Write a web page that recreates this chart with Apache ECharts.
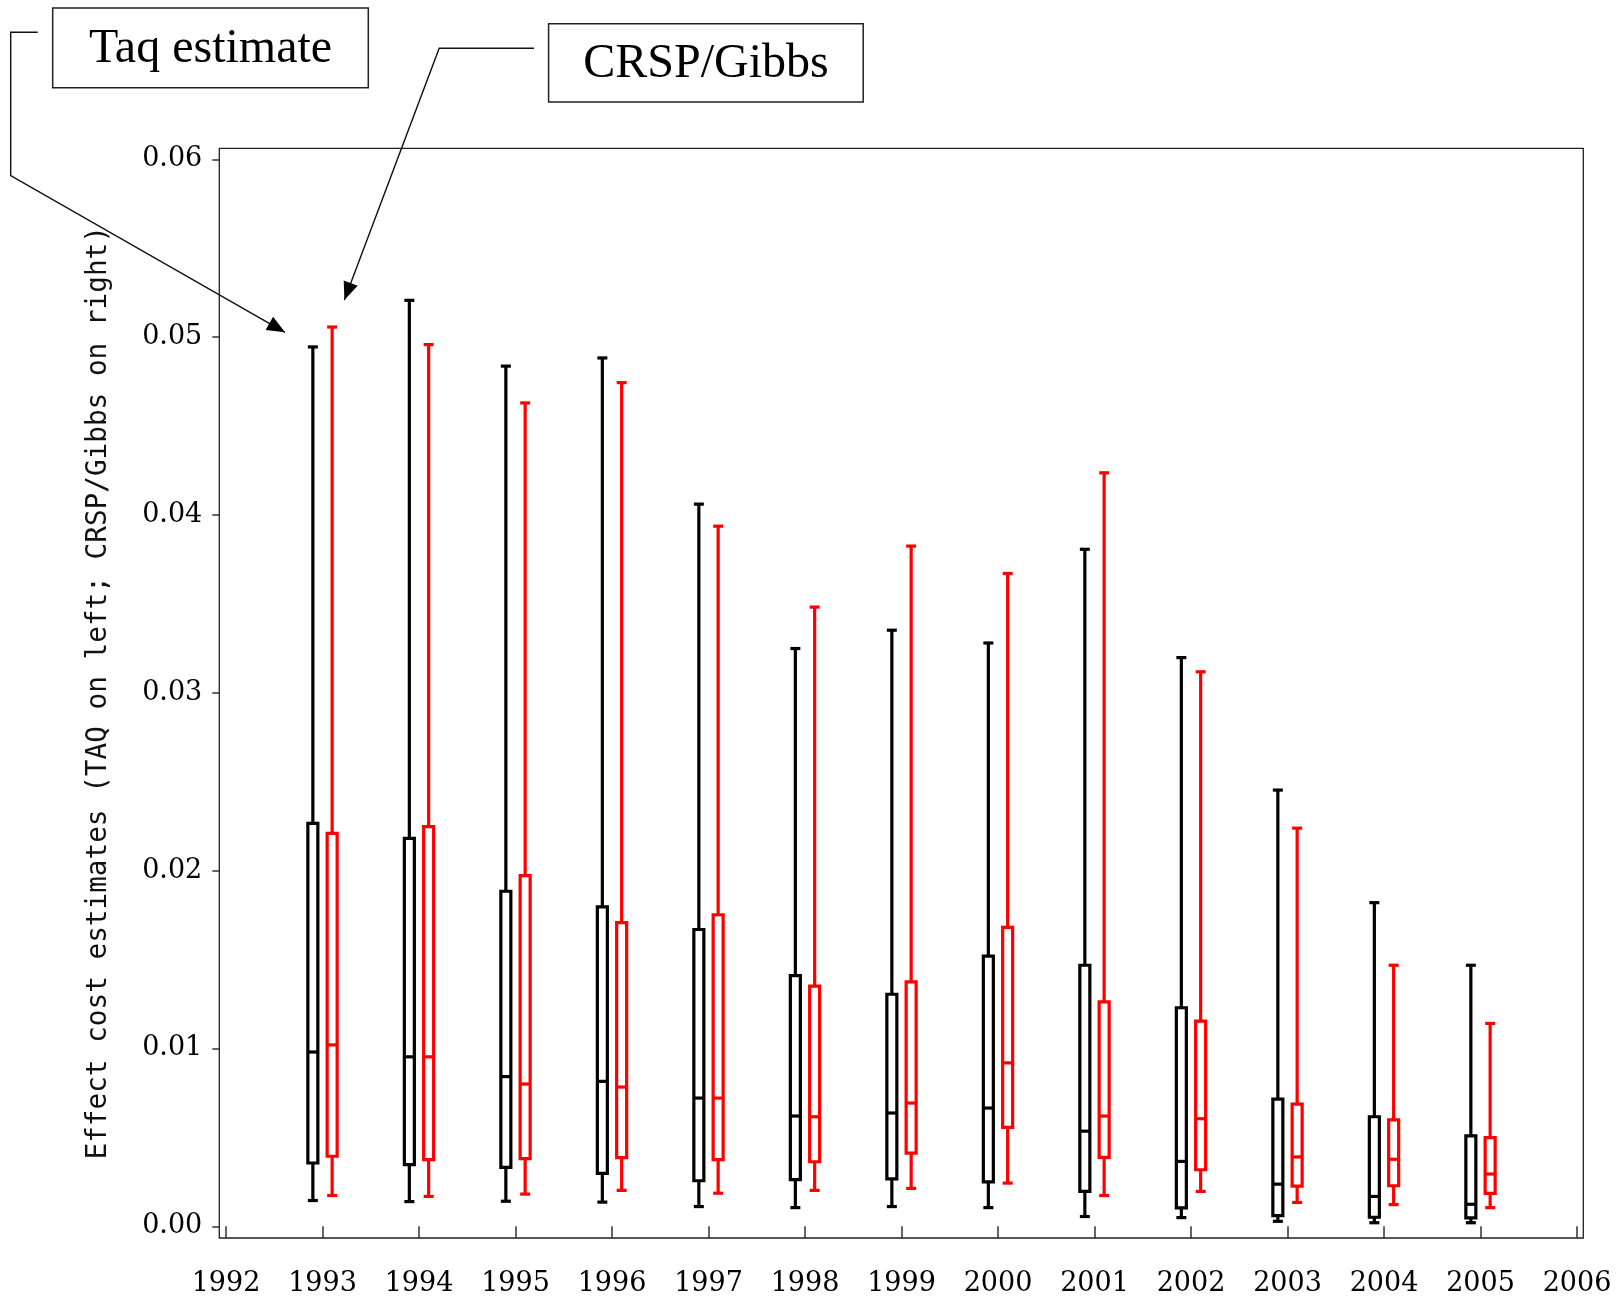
<!DOCTYPE html>
<html>
<head>
<meta charset="utf-8">
<script src="https://cdn.jsdelivr.net/npm/echarts@6/dist/echarts.min.js"></script>
<style>
html,body{margin:0;padding:0;background:#fff;}
#chart{width:1617px;height:1298px;}
</style>
</head>
<body>
<div id="chart"></div>
<script>
// ---- data ----
const years = [1993,1994,1995,1996,1997,1998,1999,2000,2001,2002,2003,2004,2005];
const xTickLabels = ['1992','1993','1994','1995','1996','1997','1998','1999','2000','2001','2002','2003','2004','2005','2006'];
const yTickLabels = ['0.00','0.01','0.02','0.03','0.04','0.05','0.06'];

// TAQ estimate (black, left)
const taqLow  = [0.00145,0.00139,0.00141,0.00136,0.00111,0.00105,0.00111,0.00105,0.00055,0.00049,0.00028,0.00020,0.00020];
const taqQ1   = [0.00356,0.00347,0.00331,0.00298,0.00256,0.00262,0.00267,0.00250,0.00196,0.00104,0.00060,0.00051,0.00047];
const taqMed  = [0.00980,0.00953,0.00842,0.00815,0.00721,0.00620,0.00637,0.00665,0.00535,0.00365,0.00237,0.00168,0.00124];
const taqQ3   = [0.02266,0.02181,0.01884,0.01796,0.01669,0.01410,0.01305,0.01519,0.01468,0.01229,0.00715,0.00616,0.00508];
const taqHigh = [0.04945,0.05207,0.04837,0.04883,0.04061,0.03249,0.03352,0.03280,0.03807,0.03198,0.02453,0.01820,0.01468];

// CRSP/Gibbs estimate (red, right)
const crspLow  = [0.00173,0.00168,0.00181,0.00202,0.00186,0.00202,0.00213,0.00243,0.00173,0.00196,0.00134,0.00122,0.00105];
const crspQ1   = [0.00394,0.00375,0.00380,0.00386,0.00375,0.00363,0.00412,0.00556,0.00388,0.00318,0.00226,0.00228,0.00185];
const crspMed  = [0.01020,0.00953,0.00800,0.00783,0.00721,0.00616,0.00693,0.00919,0.00620,0.00605,0.00390,0.00377,0.00294];
const crspQ3   = [0.02209,0.02248,0.01972,0.01708,0.01752,0.01351,0.01375,0.01681,0.01262,0.01154,0.00687,0.00599,0.00499];
const crspHigh = [0.05057,0.04958,0.04630,0.04744,0.03937,0.03482,0.03825,0.03671,0.04237,0.03118,0.02239,0.01468,0.01141];

const titleY = 'Effect cost estimates (TAQ on left; CRSP/Gibbs on right)';

// ---- build ----
const OFF = 0.1;
const taqData  = years.map((y,i)=>[y-OFF, taqLow[i], taqQ1[i], taqMed[i], taqQ3[i], taqHigh[i]]);
const crspData = years.map((y,i)=>[y+OFF, crspLow[i], crspQ1[i], crspMed[i], crspQ3[i], crspHigh[i]]);

function boxRenderer(color){
  return function(params, api){
    const x = api.value(0);
    const lo = api.coord([x, api.value(1)]);
    const q1 = api.coord([x, api.value(2)]);
    const md = api.coord([x, api.value(3)]);
    const q3 = api.coord([x, api.value(4)]);
    const hi = api.coord([x, api.value(5)]);
    const cx = lo[0];
    const h = 5;
    const st = {stroke: color, lineWidth: 3.2, fill: 'none'};
    return {
      type: 'group',
      children: [
        {type:'line', shape:{x1:cx, y1:q3[1], x2:cx, y2:hi[1]}, style: st},
        {type:'line', shape:{x1:cx, y1:q1[1], x2:cx, y2:lo[1]}, style: st},
        {type:'line', shape:{x1:cx-h, y1:hi[1], x2:cx+h, y2:hi[1]}, style: st},
        {type:'line', shape:{x1:cx-h, y1:lo[1], x2:cx+h, y2:lo[1]}, style: st},
        {type:'rect', shape:{x:cx-h, y:q3[1], width:2*h, height:q1[1]-q3[1]}, style: st},
        {type:'line', shape:{x1:cx-h, y1:md[1], x2:cx+h, y2:md[1]}, style: st}
      ]
    };
  };
}

function arrowHead(x0,y0,x1,y1,len,hw){
  const dx = x1-x0, dy = y1-y0, L = Math.sqrt(dx*dx+dy*dy);
  const ux = dx/L, uy = dy/L;
  const bx = x1-ux*len, by = y1-uy*len;
  return [[x1,y1],[bx-uy*hw, by+ux*hw],[bx+uy*hw, by-ux*hw]];
}

const chart = echarts.init(document.getElementById('chart'), null, {renderer:'canvas'});

const lineStyle = {stroke:'#111', lineWidth:1.4, fill:'none'};
const taqPath = [[37.7,32.3],[10.7,32.3],[10.7,175.7],[285,332.3]];
const crspPath = [[534,48.3],[439.2,48.3],[344.4,300]];

const option = {
  backgroundColor: '#fff',
  animation: false,
  grid: {left: 226, right: 40, top: 159.3, bottom: 71.7, containLabel: false},
  xAxis: {
    type: 'value', min: 1992, max: 2006, interval: 1,
    offset: 11.7,
    axisLine: {show: false},
    axisTick: {show: true, length: 12, lineStyle: {color: '#333', width: 1.5}},
    splitLine: {show: false},
    axisLabel: {
      margin: 32, color: '#000', fontFamily: 'DejaVu Serif', fontSize: 27,
      formatter: function(v){ return xTickLabels[Math.round(v-1992)]; }
    }
  },
  yAxis: {
    type: 'value', min: 0, max: 0.06, interval: 0.01,
    offset: 6.7,
    axisLine: {show: false},
    axisTick: {show: true, length: 7, lineStyle: {color: '#333', width: 1.5}},
    splitLine: {show: false},
    axisLabel: {
      margin: 17, color: '#000', fontFamily: 'DejaVu Serif', fontSize: 27,
      formatter: function(v){ return yTickLabels[Math.round(v*100)]; }
    },
    name: titleY,
    nameLocation: 'middle',
    nameRotate: 90,
    nameGap: 106,
    nameTextStyle: {fontFamily: 'DejaVu Sans Mono', fontSize: 27.7, color: '#111'}
  },
  graphic: [
    {type:'rect', silent:true, z:-1, shape:{x:219.3, y:148.3, width:1364, height:1089.7}, style:{fill:'none', stroke:'#222', lineWidth:1.3}},
    {type:'rect', silent:true, shape:{x:52.7, y:8, width:315.6, height:79.7}, style:{fill:'#fff', stroke:'#222', lineWidth:1.5}},
    {type:'text', silent:true, x:210.5, y:49, style:{text:'Taq estimate', font:'48px "Liberation Serif"', fill:'#000', align:'center', verticalAlign:'middle'}},
    {type:'rect', silent:true, shape:{x:548.6, y:23.7, width:314.6, height:78.4}, style:{fill:'#fff', stroke:'#222', lineWidth:1.5}},
    {type:'text', silent:true, x:706, y:64, style:{text:'CRSP/Gibbs', font:'48px "Liberation Serif"', fill:'#000', align:'center', verticalAlign:'middle'}},
    {type:'polyline', silent:true, shape:{points: taqPath}, style: lineStyle},
    {type:'polygon', silent:true, shape:{points: arrowHead(10.7,175.7,285,332.3,18,7.5)}, style:{fill:'#000'}},
    {type:'polyline', silent:true, shape:{points: crspPath}, style: lineStyle},
    {type:'polygon', silent:true, shape:{points: arrowHead(439.2,48.3,344.4,300,18,7.5)}, style:{fill:'#000'}}
  ],
  series: [
    {type:'custom', name:'TAQ', renderItem: boxRenderer('#000000'), data: taqData, encode:{x:0, y:[1,2,3,4,5]}, clip:false},
    {type:'custom', name:'CRSP/Gibbs', renderItem: boxRenderer('#ff0000'), data: crspData, encode:{x:0, y:[1,2,3,4,5]}, clip:false}
  ]
};
chart.setOption(option);
</script>
</body>
</html>
